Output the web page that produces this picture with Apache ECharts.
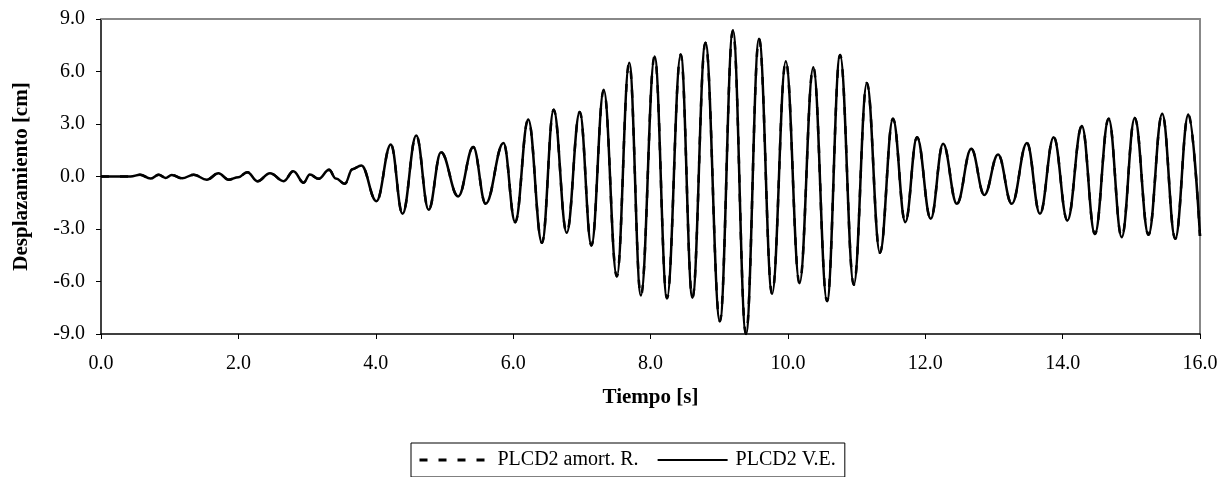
<!DOCTYPE html>
<html>
<head>
<meta charset="utf-8">
<script src="https://cdn.jsdelivr.net/npm/echarts@6/dist/echarts.min.js"></script>
<style>
  html, body { margin: 0; padding: 0; background: #fff; }
  #chart { width: 1229px; height: 477px; }
</style>
</head>
<body>
<div id="chart"></div>
<script>
// tiempo [s] de cada pico / valle
var tiempo = [
  0, 0.43, 0.57, 0.72, 0.84, 0.94, 1.03, 1.18, 1.35, 1.54, 1.71, 1.86, 2.0, 2.13,
  2.28, 2.46, 2.66, 2.80, 2.95, 3.04, 3.17, 3.32, 3.42, 3.55, 3.66, 3.79, 4.01,
  4.22, 4.39, 4.59, 4.77, 4.95, 5.20, 5.42, 5.60, 5.86, 6.03, 6.22, 6.42, 6.59,
  6.78, 6.97, 7.14, 7.32, 7.51, 7.69, 7.86, 8.06, 8.24, 8.44, 8.61, 8.80, 9.01,
  9.20, 9.39, 9.58, 9.77, 9.97, 10.17, 10.37, 10.57, 10.76, 10.96, 11.15, 11.34,
  11.53, 11.71, 11.88, 12.08, 12.26, 12.46, 12.67, 12.86, 13.06, 13.26, 13.48,
  13.67, 13.87, 14.07, 14.28, 14.47, 14.67, 14.86, 15.05, 15.25, 15.45, 15.64,
  15.83, 16.0
];
// desplazamiento [cm] - PLCD2 V.E.
var despVE = [
  0, 0, 0.10, -0.12, 0.10, -0.08, 0.09, -0.10, 0.10, -0.18, 0.18, -0.18, -0.04, 0.25,
  -0.27, 0.19, -0.27, 0.30, -0.35, 0.11, -0.13, 0.38, -0.12, -0.42, 0.42, 0.63, -1.41,
  1.83, -2.13, 2.34, -1.90, 1.39, -1.14, 1.68, -1.56, 1.91, -2.61, 3.26, -3.79, 3.81,
  -3.22, 3.68, -3.94, 4.95, -5.71, 6.50, -6.80, 6.86, -6.95, 6.97, -6.93, 7.64, -8.27,
  8.34, -9.0, 7.87, -6.70, 6.59, -6.10, 6.25, -7.12, 6.95, -6.19, 5.35, -4.36,
  3.30, -2.61, 2.25, -2.42, 1.87, -1.56, 1.58, -1.05, 1.26, -1.56, 1.92,
  -2.13, 2.25, -2.51, 2.88, -3.28, 3.30, -3.47, 3.35, -3.33, 3.58, -3.56,
  3.54, -3.40
];
// PLCD2 amort. R. (coincide con la curva V.E. en el gráfico)
var despAmortR = despVE.slice();

var xTicks = { min: 0, max: 16, interval: 2 };
var yTicks = { min: -9, max: 9, interval: 3 };

var fuente = "'Liberation Serif', 'Times New Roman', serif";

function pares(xs, ys) {
  return xs.map(function (x, i) { return [x, ys[i]]; });
}

var chart = echarts.init(document.getElementById("chart"));

var option = {
  animation: false,
  backgroundColor: "#fff",
  textStyle: { fontFamily: fuente, color: "#000" },
  grid: { left: 101, right: 29, top: 19, bottom: 143 },
  legend: {
    data: [
      { name: "PLCD2 amort. R.", lineStyle: { type: [8, 11], width: 3 } },
      { name: "PLCD2 V.E.", lineStyle: { width: 2 } },
    ],
    left: 411,
    top: 443,
    padding: [7, 9, 7, 7],
    itemGap: 18,
    itemWidth: 70,
    itemHeight: 14,
    borderColor: "#000",
    borderWidth: 1,
    itemStyle: { opacity: 0 },
    textStyle: { fontFamily: fuente, fontSize: 20, color: "#000", padding: [0, 0, 0, 3] },
  },
  xAxis: [
    {
      type: "value",
      min: xTicks.min,
      max: xTicks.max,
      interval: xTicks.interval,
      name: "Tiempo [s]",
      nameLocation: "middle",
      nameGap: 53,
      nameTextStyle: { fontFamily: fuente, fontSize: 21, fontWeight: "bold", color: "#000" },
      axisLine: { onZero: false, lineStyle: { color: "#000", width: 1.5 } },
      axisTick: { show: true, length: 5, lineStyle: { color: "#000" } },
      axisLabel: {
        margin: 20,
        fontFamily: fuente,
        fontSize: 20,
        color: "#000",
        formatter: function (v) { return v.toFixed(1); },
      },
      splitLine: { show: false },
    },
    {
      type: "value",
      position: "top",
      min: xTicks.min,
      max: xTicks.max,
      axisLine: { show: true, onZero: false, lineStyle: { color: "#888", width: 2 } },
      axisTick: { show: false },
      axisLabel: { show: false },
      splitLine: { show: false },
    },
  ],
  yAxis: [
    {
      type: "value",
      min: yTicks.min,
      max: yTicks.max,
      interval: yTicks.interval,
      name: "Desplazamiento [cm]",
      nameLocation: "middle",
      nameGap: 69,
      nameTextStyle: { fontFamily: fuente, fontSize: 21, fontWeight: "bold", color: "#000" },
      axisLine: { show: true, onZero: false, lineStyle: { color: "#000", width: 1.5 } },
      axisTick: { show: true, length: 5, lineStyle: { color: "#000" } },
      axisLabel: {
        margin: 16,
        fontFamily: fuente,
        fontSize: 20,
        color: "#000",
        formatter: function (v) { return v.toFixed(1); },
      },
      splitLine: { show: false },
    },
    {
      type: "value",
      position: "right",
      min: yTicks.min,
      max: yTicks.max,
      axisLine: { show: true, onZero: false, lineStyle: { color: "#888", width: 2 } },
      axisTick: { show: false },
      axisLabel: { show: false },
      splitLine: { show: false },
    },
  ],
  series: [
    {
      name: "PLCD2 amort. R.",
      type: "line",
      data: pares(tiempo, despAmortR),
      symbol: "none",
      smooth: 0.4,
      smoothMonotone: "x",
      lineStyle: { color: "#000", width: 2.5, type: [8, 11] },
      itemStyle: { color: "#000" },
      z: 2,
    },
    {
      name: "PLCD2 V.E.",
      type: "line",
      data: pares(tiempo, despVE),
      symbol: "none",
      smooth: 0.4,
      smoothMonotone: "x",
      lineStyle: { color: "#000", width: 2.5 },
      itemStyle: { color: "#000" },
      z: 3,
    },
  ],
};

chart.setOption(option);
</script>
</body>
</html>
